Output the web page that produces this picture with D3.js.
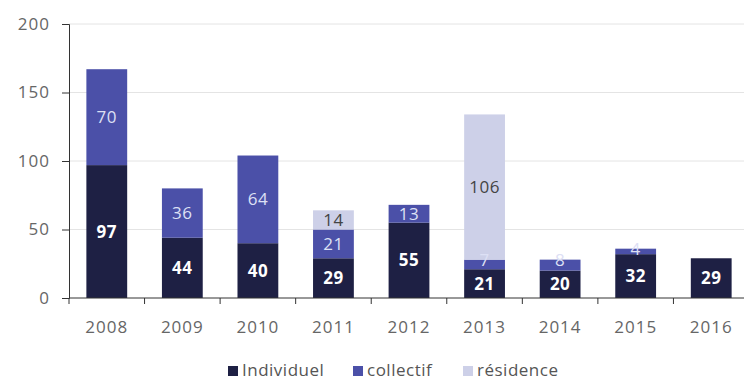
<!DOCTYPE html>
<html>
<head>
<meta charset="utf-8">
<script src="https://cdn.jsdelivr.net/npm/d3@7"></script>
<style>
  body { margin: 0; background: #fff; }
  svg { display: block; }
</style>
</head>
<body>
<div id="chart"></div>
<script>
// data
let years = ["2008", "2009", "2010", "2011", "2012", "2013", "2014", "2015", "2016"];
let individuel = [97, 44, 40, 29, 55, 21, 20, 32, 29];
let collectif = [70, 36, 64, 21, 13, 7, 8, 4, 0];
let residence = [0, 0, 0, 14, 0, 106, 0, 0, 0];
let seriesNames = ["Individuel", "collectif", "résidence"];
let yTicks = [0, 50, 100, 150, 200];

let colors = ["#1e2044", "#4b50a8", "#cdd0e8"];
let labelColors = ["#ffffff", "#dde0f5", "#444444"];

let width = 744, height = 382;
let margin = {left: 69, right: -5, top: 24, bottom: 84};

let svg = d3.select("#chart")
  .append("svg")
    .attr("width", width)
    .attr("height", height)
    .attr("font-family", "'Open Sans', sans-serif")
;

let x = d3.scaleBand()
  .domain(years)
  .range([margin.left, width - margin.right])
  .paddingInner(0.46)
  .paddingOuter(0.23);

let y = d3.scaleLinear()
  .domain([0, 200])
  .range([height - margin.bottom, margin.top]);

// table for the stack
let table = years.map((yr, i) => ({
  year: yr,
  Individuel: individuel[i],
  collectif: collectif[i],
  "résidence": residence[i]
}));

let stacked = d3.stack().keys(seriesNames)(table);

//gridlines
svg.append("g")
  .selectAll("line")
  .data(yTicks.filter(d => d > 0))
  .enter()
  .append("line")
    .attr("x1", margin.left)
    .attr("x2", width)
    .attr("y1", d => y(d))
    .attr("y2", d => y(d))
    .attr("stroke", "#e4e4e4")
    .attr("stroke-width", 1)
;

// bars
let layers = svg.append("g")
  .selectAll("g")
  .data(stacked)
  .enter()
  .append("g")
    .attr("fill", (d, i) => colors[i])
;

layers.selectAll("rect")
  .data(d => d)
  .enter()
  .append("rect")
    .attr("x", d => x(d.data.year))
    .attr("width", x.bandwidth())
    .attr("y", d => y(d[1]))
    .attr("height", d => y(d[0]) - y(d[1]))
;

// value labels
stacked.forEach((layer, li) => {
  svg.append("g")
    .selectAll("text")
    .data(layer.filter(d => d[1] - d[0] > 0))
    .enter()
    .append("text")
      .attr("x", d => x(d.data.year) + x.bandwidth() / 2)
      .attr("y", d => {
        let h = y(d[0]) - y(d[1]);
        if (h < 16) return y(d[1]) + 6;
        return (y(d[0]) + y(d[1])) / 2 + 6;
      })
      .attr("text-anchor", "middle")
      .attr("font-size", 17)
      .attr("letter-spacing", 0.5)
      .attr("font-weight", li === 0 ? "bold" : "normal")
      .attr("fill", labelColors[li])
      .text(d => d[1] - d[0])
  ;
});

// y axis
let yAxis = svg.append("g")
  .attr("transform", `translate(${margin.left},0)`)
  .call(d3.axisLeft(y).tickValues(yTicks).tickSize(7).tickPadding(12));
yAxis.selectAll("text")
  .attr("font-size", 17)
  .attr("letter-spacing", 1)
  .attr("fill", "#666")
  .attr("font-family", "'Open Sans', sans-serif");
yAxis.selectAll("line").attr("stroke", "#333");
yAxis.select(".domain").attr("stroke", "#333");

// x axis: ticks on band borders
let xAxisG = svg.append("g")
  .attr("transform", `translate(0,${y(0)})`);
xAxisG.append("line")
  .attr("x1", margin.left).attr("x2", width)
  .attr("stroke", "#333");
let step = x.step();
xAxisG.selectAll(".tk")
  .data(years)
  .enter()
  .append("line")
    .attr("x1", d => x(d) - x.paddingOuter() * step)
    .attr("x2", d => x(d) - x.paddingOuter() * step)
    .attr("y1", 0)
    .attr("y2", 6)
    .attr("stroke", "#333")
;
xAxisG.selectAll("text")
  .data(years)
  .enter()
  .append("text")
    .attr("x", d => x(d) + x.bandwidth() / 2)
    .attr("y", 35)
    .attr("text-anchor", "middle")
    .attr("font-size", 17)
    .attr("letter-spacing", 1)
    .attr("fill", "#666")
    .text(d => d)
;

// legend
let legendX = [228, 353, 463];
let legend = svg.append("g")
  .selectAll("g")
  .data(seriesNames)
  .enter()
  .append("g")
    .attr("transform", (d, i) => `translate(${legendX[i]},${376})`)
;
legend.append("rect")
  .attr("x", 0).attr("y", -10)
  .attr("width", 10).attr("height", 10)
  .attr("fill", (d, i) => colors[i]);
legend.append("text")
  .attr("x", 14).attr("y", 0)
  .attr("font-size", 17)
  .attr("letter-spacing", 0.5)
  .attr("fill", "#555")
  .text(d => d);
</script>
</body>
</html>
